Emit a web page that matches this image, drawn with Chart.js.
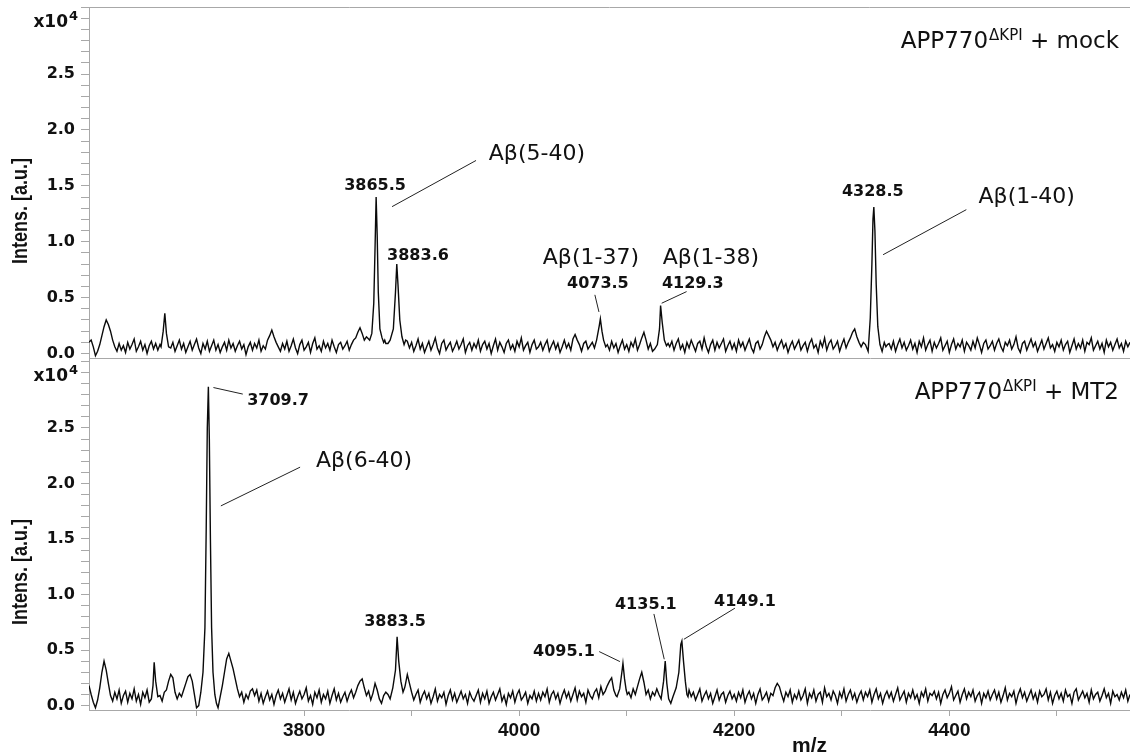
<!DOCTYPE html>
<html>
<head>
<meta charset="utf-8">
<script src="https://cdn.jsdelivr.net/npm/chart.js@4.4.0/dist/chart.umd.min.js"></script>
<style>
  html, body { margin: 0; padding: 0; background: #fff; }
  #wrap { position: relative; width: 1130px; height: 754px; overflow: hidden; }
  #wrap canvas { position: absolute; left: 0; }
  #topChart { top: 0; }
  #bottomChart { top: 340px; }
</style>
</head>
<body>
<div id="wrap">
  <canvas id="topChart" width="1130" height="362"></canvas>
  <canvas id="bottomChart" width="1130" height="414"></canvas>
</div>
<script>
// baseline trace is sampled every 2 m/z from 3600, values in 1/100 of 10^4 counts
const mzStart = 3600;
const mzStep = 2;

const mockNoise = [
  10, 12, 6, -2, 2, 8, 16, 24, 30, 26, 20, 12, 6, 2, 9, 3, 7, 1, 10, 4, 8, 13, 2, 6, 11, 3, 8, 0, 7, 11,
  4, 9, 3, 8, 0, 0, 0, 0, 5, 10, 2, 7, 12, 4, 9, 1, 6, 11, 3, 8, 13, 5, 0, 9, 4, 11, 2, 7, 12, 3,
  8, 1, 6, 10, 3, 12, 5, 9, 2, 7, 11, 4, 8, -1, 6, 10, 3, 9, 5, 12, 2, 7, 4, 12, 16, 21, 15, 10, 6, 2,
  9, 4, 11, 2, 7, 13, 5, 0, 8, 12, 3, 6, 10, 1, 9, 14, 4, 7, 2, 11, 5, 9, 3, 12, 6, 1, 8, 10, 4, 7,
  11, 3, 8, 12, 14, 19, 23, 18, 12, 15, 13, 0, 0, 0, 0, 0, 0, 0, 9, 0, 0, 0, 0, 0, 0, 0, 0, 0, 11, 5,
  10, 2, 7, 13, 4, 9, 1, 6, 11, 3, 8, 14, 5, 0, 9, 12, 3, 7, 10, 2, 6, 11, 4, 8, 13, 1, 7, 10, 3, 9,
  5, 12, 2, 8, 11, 4, 9, 0, 7, 13, 3, 10, 6, 1, 9, 12, 4, 8, 2, 11, 6, 14, 3, 7, 10, 1, 8, 12, 4, 6,
  10, 3, 8, 12, 2, 7, 11, 4, 9, 1, 6, 12, 5, 9, 3, 13, 17, 12, 8, 2, 9, 11, 4, 7, 10, 0, 0, 0, 0, 0,
  0, 8, 3, 11, 5, 9, 1, 7, 12, 4, 8, 2, 10, 6, 13, 3, 8, 14, 19, 12, 4, 9, 2, 0, 0, 0, 0, 0, 0, 0,
  6, 11, 3, 9, 13, 4, 8, 1, 10, 5, 12, 7, 2, 9, 11, 4, 14, 6, 1, 8, 12, 3, 10, 5, 9, 13, 2, 7, 11, 4,
  9, 2, 12, 6, 10, 3, 8, 13, 5, 1, 9, 11, 4, 8, 15, 20, 16, 12, 6, 10, 3, 8, 12, 5, 9, 1, 7, 11, 4, 8,
  12, 3, 7, 10, 2, 9, 13, 5, 8, 1, 11, 6, 14, 3, 9, 12, 4, 7, 11, 2, 8, 13, 5, 10, 14, 19, 22, 15, 0, 0,
  0, 0, 0, 0, 0, 0, 0, 0, 0, 0, 0, 0, 9, 4, 11, 2, 8, 13, 5, 10, 3, 7, 12, 4, 9, 1, 11, 6, 14, 3,
  8, 12, 2, 10, 5, 9, 14, 3, 7, 11, 1, 8, 13, 4, 9, 6, 12, 2, 10, 7, 3, 11, 5, 14, 8, 1, 9, 12, 4, 7,
  11, 3, 9, 13, 6, 2, 10, 7, 12, 4, 8, 15, 5, 1, 9, 11, 3, 8, 13, 6, 10, 2, 7, 12, 4, 9, 14, 5, 8, 2,
  10, 6, 12, 3, 8, 11, 1, 7, 13, 4, 9, 5, 12, 2, 10, 8, 14, 3, 7, 11, 4, 9, 1, 12, 6, 10, 3, 8, 13, 5,
  9, 2, 11, 6, 10
];

const mt2Noise = [
  18, 10, 3, -2, 5, 16, 30, 40, 32, 20, 9, 4, 12, 6, 14, 2, 9, 13, 3, 11, 6, 15, 4, 10, 1, 12, 7, 14, 3, 0,
  0, 0, 0, 9, 4, 12, 14, 22, 28, 25, 12, 6, 11, 8, 14, 20, 26, 28, 22, 10, -2, 0, 0, 0, 0, 0, 0, 0, 0, 0,
  -2, 8, 18, 30, 42, 47, 40, 33, 24, 15, 8, 12, 3, 10, 6, 13, 15, 9, 14, 4, 11, 2, 8, 13, 5, 10, 1, 9, 14, 6,
  11, 3, 9, 15, 5, 12, 2, 8, 13, 6, 10, 16, 4, 9, 1, 12, 7, 14, 3, 10, 6, 13, 2, 9, 15, 5, 11, 3, 8, 12,
  4, 10, 14, 7, 12, 18, 22, 24, 16, 9, 13, 5, 11, 20, 14, 6, 2, 9, 12, 0, 0, 0, 0, 0, 0, 0, 0, 18, 28, 20,
  12, 5, 10, 14, 3, 9, 13, 6, 11, 2, 8, 15, 4, 10, 7, 12, 1, 9, 14, 5, 11, 3, 8, 13, 6, 10, 2, 12, 7, 4,
  9, 14, 3, 11, 6, 13, 2, 8, 12, 5, 10, 15, 4, 9, 1, 11, 7, 13, 3, 10, 14, 5, 8, 12, 2, 9, 6, 13, 4, 11,
  5, 12, 8, 15, 3, 10, 13, 6, 11, 2, 9, 14, 7, 12, 4, 10, 16, 5, 13, 8, 11, 3, 14, 9, 6, 12, 15, 7, 17, 10,
  13, 18, 22, 25, 14, 9, 0, 0, 0, 0, 0, 12, 7, 15, 10, 17, 24, 30, 21, 10, 14, 6, 12, 9, 15, 0, 0, 0, 0, 0,
  0, 0, 0, 0, 0, 0, 0, 0, 0, 14, 8, 12, 5, 10, 15, 4, 9, 13, 6, 11, 2, 8, 14, 5, 10, 12, 3, 9, 13, 6,
  10, 4, 12, 7, 14, 3, 9, 13, 6, 11, 2, 10, 15, 5, 8, 12, 4, 11, 9, 16, 20, 17, 10, 4, 12, 8, 14, 3, 10, 6,
  13, 5, 9, 15, 2, 11, 7, 14, 4, 10, 12, 3, 16, 8, 11, 5, 13, 9, 2, 12, 7, 15, 4, 10, 14, 6, 11, 3, 9, 13,
  5, 12, 8, 14, 3, 10, 15, 6, 11, 2, 9, 13, 7, 12, 4, 10, 16, 5, 9, 13, 3, 11, 7, 14, 6, 10, 2, 12, 8, 15,
  4, 11, 9, 13, 6, 12, 2, 10, 14, 7, 11, 17, 5, 9, 13, 3, 10, 15, 6, 12, 8, 14, 4, 9, 12, 2, 11, 7, 13, 5,
  10, 14, 6, 12, 3, 9, 16, 5, 11, 8, 13, 2, 10, 15, 7, 12, 4, 9, 14, 6, 11, 3, 13, 8, 10, 15, 5, 12, 2, 9,
  13, 6, 11, 4, 14, 8, 10, 2, 12, 15, 5, 9, 13, 7, 11, 3, 14, 6, 10, 12, 4, 9, 15, 7, 11, 2, 13, 8, 10, 5,
  12, 7, 14, 4, 10
];

// peak profiles [m/z, intensity x10^4]
const mockPeaks = [
  [[3667, 0.06], [3669, 0.20], [3670.5, 0.36], [3672, 0.18], [3674, 0.06]],
  [[3861, 0.12], [3863, 0.18], [3864.8, 0.45], [3866, 0.95], [3867, 1.40], [3868, 1.05], [3869, 0.55], [3870.5, 0.22], [3872.5, 0.14], [3874, 0.10], [3875, 0.12]],
  [[3878, 0.09], [3880, 0.12], [3883, 0.22], [3885, 0.55], [3886.2, 0.80], [3887.3, 0.62], [3889, 0.30], [3891, 0.15], [3893, 0.08], [3894.5, 0.12]],
  [[4070, 0.05], [4072, 0.12], [4074.5, 0.25], [4075.5, 0.31], [4077, 0.20], [4078.5, 0.12], [4080.5, 0.06]],
  [[4126, 0.04], [4128.5, 0.08], [4130.5, 0.22], [4131.5, 0.43], [4133, 0.28], [4135, 0.12], [4137, 0.07], [4138.5, 0.09]],
  [[4316, 0.10], [4318, 0.06], [4320, 0.10], [4322, 0.08], [4324.5, 0.02], [4326.5, 0.32], [4328, 0.80], [4329, 1.20], [4329.8, 1.31], [4330.8, 1.10], [4332, 0.62], [4333.5, 0.24], [4335.5, 0.08], [4337.5, 0.02], [4339.5, 0.10], [4341, 0.06], [4342.5, 0.08]]
];

const mt2Peaks = [
  [[3658, 0.06], [3659.5, 0.18], [3660.6, 0.39], [3662, 0.22], [3664, 0.08]],
  [[3702, 0.00], [3704, 0.12], [3706, 0.30], [3707.8, 0.70], [3709, 1.60], [3710, 2.50], [3711, 2.87], [3711.9, 2.40], [3712.9, 1.50], [3714, 0.70], [3715.3, 0.30], [3717, 0.10], [3718.5, 0.02]],
  [[3878, 0.10], [3880, 0.06], [3882.5, 0.16], [3885, 0.32], [3886.5, 0.62], [3888, 0.40], [3890, 0.22], [3892, 0.12], [3893.5, 0.16]],
  [[4091, 0.08], [4093.5, 0.15], [4095.5, 0.30], [4096.5, 0.38], [4098, 0.24], [4099.5, 0.14], [4100.5, 0.10]],
  [[4130, 0.10], [4132, 0.06], [4134.3, 0.22], [4135.8, 0.40], [4137.3, 0.20], [4139, 0.06], [4141, 0.02], [4143, 0.08], [4146, 0.16], [4148.5, 0.30], [4150.3, 0.55], [4151.3, 0.58], [4152.8, 0.40], [4154.5, 0.22], [4156, 0.10], [4157, 0.08]]
];

const yTickLabels = ['0.0', '0.5', '1.0', '1.5', '2.0', '2.5'];
const xTickLabels = ['3800', '4000', '4200', '4400'];

const mockNotes = [
  {text: '3865.5', mz: 3866.0, y: 1.46, bold: true},
  {text: 'A\u03b2(5-40)', mz: 4016.5, y: 1.735},
  {text: '3883.6', mz: 3905.9, y: 0.84, bold: true},
  {text: 'A\u03b2(1-37)', mz: 4066.7, y: 0.80},
  {text: '4073.5', mz: 4073.2, y: 0.585, bold: true},
  {text: 'A\u03b2(1-38)', mz: 4178.3, y: 0.80},
  {text: '4129.3', mz: 4161.5, y: 0.585, bold: true},
  {text: '4328.5', mz: 4328.8, y: 1.407, bold: true},
  {text: 'A\u03b2(1-40)', mz: 4471.9, y: 1.348}
];
const mockLeaders = [
  [3881.8, 1.314, 3959.9, 1.727],
  [4070.4, 0.525, 4074.2, 0.372],
  [4155.7, 0.554, 4132.5, 0.450],
  [4415.8, 1.287, 4338.4, 0.884]
];

const mt2Notes = [
  {text: '3709.7', mz: 3775.8, y: 2.708, bold: true},
  {text: 'A\u03b2(6-40)', mz: 3855.8, y: 2.152},
  {text: '3883.5', mz: 3884.6, y: 0.717, bold: true},
  {text: '4095.1', mz: 4041.6, y: 0.447, bold: true},
  {text: '4135.1', mz: 4117.8, y: 0.868, bold: true},
  {text: '4149.1', mz: 4209.9, y: 0.897, bold: true}
];
const mt2Leaders = [
  [3715.7, 2.864, 3743.0, 2.805],
  [3796.3, 2.147, 3722.6, 1.798],
  [4074.4, 0.486, 4093.7, 0.396],
  [4125.3, 0.825, 4134.9, 0.417],
  [4200.6, 0.877, 4153.2, 0.597]
];

const axisGray = '#a8a8a8';
const inkColor = '#111';

function buildTrace(noise, peaks) {
  const pts = [];
  noise.forEach(function (v, i) {
    const mz = mzStart + i * mzStep;
    const inPeak = peaks.some(function (p) {
      return mz >= p[0][0] && mz <= p[p.length - 1][0];
    });
    if (!inPeak) pts.push({x: mz, y: v / 100});
  });
  peaks.forEach(function (p) {
    p.forEach(function (q) { pts.push({x: q[0], y: q[1]}); });
  });
  pts.sort(function (a, b) { return a.x - b.x; });
  return pts;
}

function decor(cfg) {
  return {
    id: 'decor',
    afterDraw: function (chart) {
      const ctx = chart.ctx;
      const xs = chart.scales.x;
      const ys = chart.scales.y;
      const area = chart.chartArea;
      ctx.save();

      if (cfg.frameTop) {
        ctx.strokeStyle = axisGray;
        ctx.lineWidth = 1;
        ctx.beginPath();
        ctx.moveTo(area.left, Math.round(area.top) + 0.5);
        ctx.lineTo(area.right, Math.round(area.top) + 0.5);
        ctx.stroke();
      }

      ctx.fillStyle = inkColor;

      // x10^4 at the top of the y axis
      const yb = ys.getPixelForValue(2.92);
      ctx.textAlign = 'right';
      ctx.textBaseline = 'alphabetic';
      ctx.font = 'bold 17px "DejaVu Sans"';
      ctx.fillText('x10', 68, yb);
      ctx.font = 'bold 13px "DejaVu Sans"';
      ctx.fillText('4', 78, yb - 7);

      // y axis title
      ctx.save();
      ctx.translate(27, cfg.titleMid);
      ctx.rotate(-Math.PI / 2);
      ctx.scale(1, 1.2);
      ctx.textAlign = 'center';
      ctx.font = 'bold 18px "Liberation Sans"';
      ctx.fillText('Intens. [a.u.]', 0, 0);
      ctx.restore();

      // panel title, right aligned
      const base = area.top + 41;
      ctx.textAlign = 'left';
      ctx.font = '23px "DejaVu Sans"';
      const w1 = ctx.measureText('APP770').width;
      const w3 = ctx.measureText(cfg.suffix).width;
      ctx.font = '15px "DejaVu Sans"';
      const w2 = ctx.measureText('\u0394KPI').width;
      const x0 = area.right - 12 - (w1 + w2 + w3);
      ctx.font = '23px "DejaVu Sans"';
      ctx.fillText('APP770', x0, base);
      ctx.font = '15px "DejaVu Sans"';
      ctx.fillText('\u0394KPI', x0 + w1 + 1, base - 8);
      ctx.font = '23px "DejaVu Sans"';
      ctx.fillText(cfg.suffix, x0 + w1 + w2 + 1, base);

      // peak labels
      ctx.textAlign = 'center';
      cfg.notes.forEach(function (n) {
        ctx.font = n.bold ? 'bold 16px "DejaVu Sans"' : '22px "DejaVu Sans"';
        ctx.fillText(n.text, xs.getPixelForValue(n.mz), ys.getPixelForValue(n.y));
      });

      ctx.strokeStyle = '#222';
      ctx.lineWidth = 1;
      cfg.leaders.forEach(function (s) {
        ctx.beginPath();
        ctx.moveTo(xs.getPixelForValue(s[0]), ys.getPixelForValue(s[1]));
        ctx.lineTo(xs.getPixelForValue(s[2]), ys.getPixelForValue(s[3]));
        ctx.stroke();
      });

      if (cfg.xTitle) {
        ctx.textAlign = 'left';
        ctx.font = 'bold 21px "Liberation Sans"';
        ctx.fillText('m/z', 792, chart.height - 2.5);
      }
      ctx.restore();
    }
  };
}

function yAxis(yMax) {
  return {
    type: 'linear',
    min: -0.04,
    max: yMax,
    ticks: {
      stepSize: 0.1,
      autoSkip: false,
      includeBounds: false,
      padding: 6,
      color: inkColor,
      font: {family: 'DejaVu Sans', weight: 'bold', size: 16},
      callback: function (v) {
        const s = v.toFixed(1);
        return yTickLabels.indexOf(s) >= 0 ? s : '';
      }
    },
    grid: {display: true, drawOnChartArea: false, drawTicks: true, tickLength: 8, tickColor: axisGray, lineWidth: 1},
    border: {display: true, color: axisGray, width: 1},
    afterFit: function (s) {
      s.width = 89;
      s.paddingTop = 0;
      s.paddingBottom = 0;
    }
  };
}

function traceSet(noise, peaks) {
  return {
    data: buildTrace(noise, peaks),
    borderColor: '#0a0a0a',
    borderWidth: 1.4,
    pointRadius: 0,
    tension: 0,
    fill: false
  };
}

const topChart = new Chart(document.getElementById('topChart'), {
  type: 'line',
  data: {datasets: [traceSet(mockNoise, mockPeaks)]},
  options: {
    responsive: false,
    animation: false,
    devicePixelRatio: 1,
    layout: {padding: {top: 7, left: 0, right: 0, bottom: 0}},
    plugins: {legend: {display: false}, tooltip: {enabled: false}},
    scales: {
      x: {
        type: 'linear',
        min: 3600,
        max: 4568,
        ticks: {display: false},
        grid: {display: false},
        border: {display: true, color: axisGray, width: 1},
        afterFit: function (s) {
          s.height = 4;
          s.paddingLeft = 0;
          s.paddingRight = 0;
        }
      },
      y: yAxis(3.10)
    }
  },
  plugins: [decor({frameTop: true, titleMid: 211, suffix: ' + mock', notes: mockNotes, leaders: mockLeaders})]
});

const bottomChart = new Chart(document.getElementById('bottomChart'), {
  type: 'line',
  data: {datasets: [traceSet(mt2Noise, mt2Peaks)]},
  options: {
    responsive: false,
    animation: false,
    devicePixelRatio: 1,
    layout: {padding: {top: 18, left: 0, right: 0, bottom: 0}},
    plugins: {legend: {display: false}, tooltip: {enabled: false}},
    scales: {
      x: {
        type: 'linear',
        min: 3600,
        max: 4568,
        ticks: {
          stepSize: 100,
          autoSkip: false,
          includeBounds: false,
          maxRotation: 0,
          minRotation: 0,
          padding: 3,
          color: inkColor,
          font: {family: 'Liberation Sans', weight: 'bold', size: 19},
          callback: function (v) {
            const s = String(Math.round(v));
            return xTickLabels.indexOf(s) >= 0 ? s : '';
          }
        },
        grid: {
          display: true,
          drawOnChartArea: false,
          drawTicks: true,
          tickLength: 6,
          tickColor: function (c) {
            return c.tick && c.tick.value === 3600 ? 'rgba(0,0,0,0)' : axisGray;
          }
        },
        border: {display: true, color: axisGray, width: 1},
        afterFit: function (s) {
          s.height = 44;
          s.paddingLeft = 0;
          s.paddingRight = 0;
        }
      },
      y: yAxis(3.13)
    }
  },
  plugins: [decor({frameTop: false, titleMid: 232, suffix: ' + MT2', notes: mt2Notes, leaders: mt2Leaders, xTitle: true})]
});
</script>
</body>
</html>
